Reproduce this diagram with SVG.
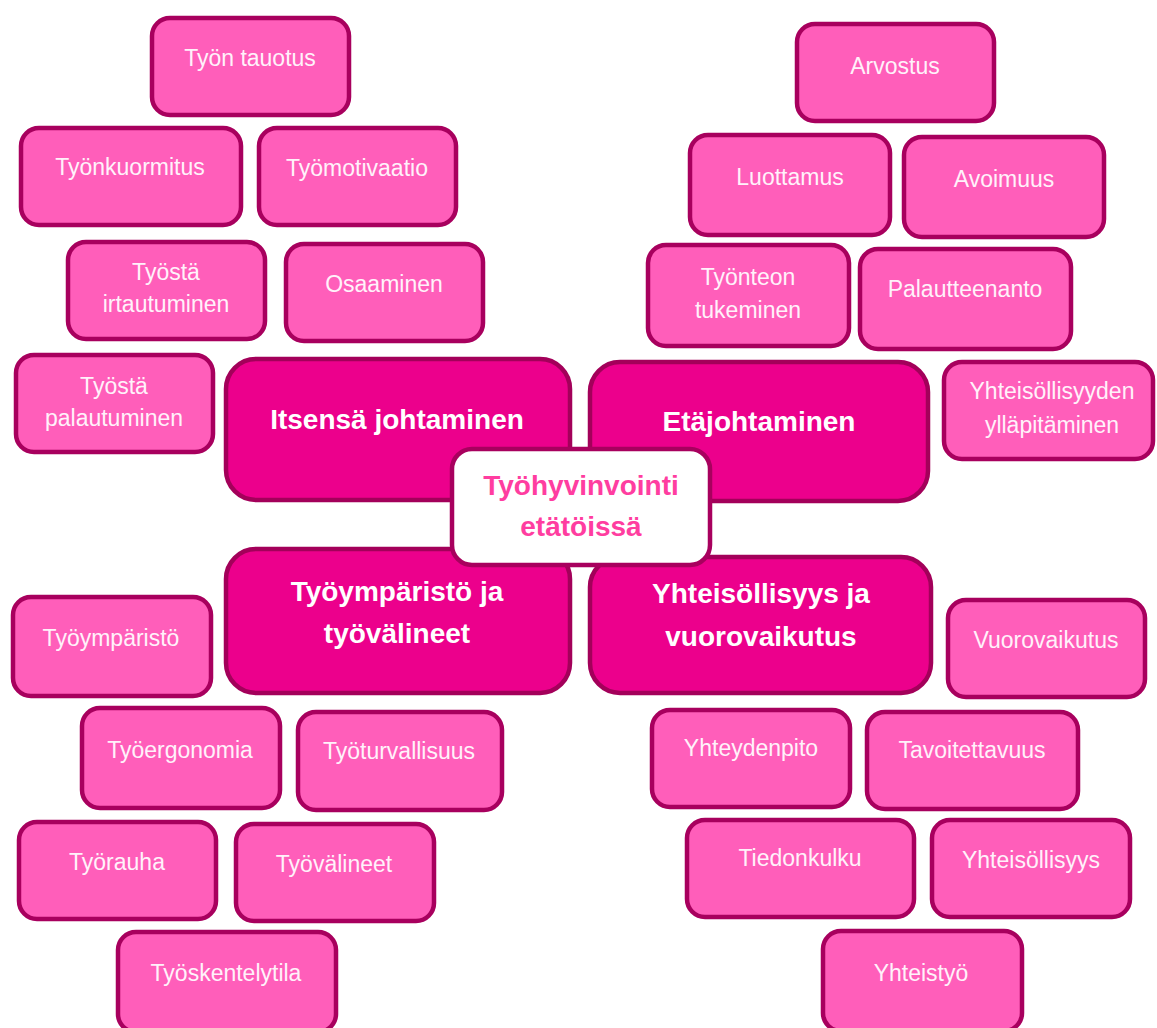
<svg xmlns="http://www.w3.org/2000/svg" width="1157" height="1028" viewBox="0 0 1157 1028">
<style>
.s rect{fill:#FF5EBA;stroke:#A8005E;stroke-width:4.5}
.s text{fill:#FFF2FA;font-family:"Liberation Sans",Arial,sans-serif;font-size:23px;text-anchor:middle}
.m rect{fill:#EC008C;stroke:#A3005A;stroke-width:4.5}
.m text{fill:#FFFFFF;font-family:"Liberation Sans",Arial,sans-serif;font-size:28px;font-weight:bold;text-anchor:middle}
.c rect{fill:#FFFFFF;stroke:#A8005E;stroke-width:4.5}
.c text{fill:#FF3DA0;font-family:"Liberation Sans",Arial,sans-serif;font-size:28px;font-weight:bold;text-anchor:middle}
</style>
<rect width="1157" height="1028" fill="#FFFFFF"/>
<g id="connectors"></g>

<!-- left top -->
<g id="tyon-tauotus" class="s"><rect x="152" y="18" width="197" height="97" rx="18"/><text x="250" y="66">Työn tauotus</text></g>
<g id="tyonkuormitus" class="s"><rect x="21" y="128" width="220" height="97" rx="18"/><text x="130" y="175">Työnkuormitus</text></g>
<g id="tyomotivaatio" class="s"><rect x="259" y="128" width="197" height="97" rx="18"/><text x="357" y="176">Työmotivaatio</text></g>
<g id="tyosta-irtautuminen" class="s"><rect x="68" y="242" width="197" height="97" rx="18"/><text x="166" y="280">Työstä</text><text x="166" y="312">irtautuminen</text></g>
<g id="osaaminen" class="s"><rect x="286" y="244" width="197" height="97" rx="18"/><text x="384" y="292">Osaaminen</text></g>
<g id="tyosta-palautuminen" class="s"><rect x="16" y="355" width="197" height="97" rx="18"/><text x="114" y="394">Työstä</text><text x="114" y="426">palautuminen</text></g>

<!-- right top -->
<g id="arvostus" class="s"><rect x="797" y="24" width="197" height="97" rx="18"/><text x="895" y="74">Arvostus</text></g>
<g id="luottamus" class="s"><rect x="690" y="135" width="200" height="100" rx="18"/><text x="790" y="185">Luottamus</text></g>
<g id="avoimuus" class="s"><rect x="904" y="137" width="200" height="100" rx="18"/><text x="1004" y="187">Avoimuus</text></g>
<g id="tyonteon-tukeminen" class="s"><rect x="648" y="245" width="201" height="101" rx="18"/><text x="748" y="285">Työnteon</text><text x="748" y="318">tukeminen</text></g>
<g id="palautteenanto" class="s"><rect x="860" y="249" width="211" height="100" rx="18"/><text x="965" y="297">Palautteenanto</text></g>
<g id="yhteisollisyyden-yllapitaminen" class="s"><rect x="944" y="362" width="209" height="97" rx="18"/><text x="1052" y="399">Yhteisöllisyyden</text><text x="1052" y="433">ylläpitäminen</text></g>

<!-- left bottom -->
<g id="tyoymparisto" class="s"><rect x="13" y="597" width="198" height="99" rx="18"/><text x="111" y="646">Työympäristö</text></g>
<g id="tyoergonomia" class="s"><rect x="82" y="708" width="198" height="100" rx="18"/><text x="180" y="758">Työergonomia</text></g>
<g id="tyoturvallisuus" class="s"><rect x="298" y="712" width="204" height="98" rx="18"/><text x="399" y="759">Työturvallisuus</text></g>
<g id="tyorauha" class="s"><rect x="19" y="822" width="197" height="97" rx="18"/><text x="117" y="870">Työrauha</text></g>
<g id="tyovalineet" class="s"><rect x="236" y="824" width="198" height="97" rx="18"/><text x="334" y="872">Työvälineet</text></g>
<g id="tyoskentelytila" class="s"><rect x="118" y="932" width="218" height="100" rx="18"/><text x="226" y="981">Työskentelytila</text></g>

<!-- right bottom -->
<g id="vuorovaikutus" class="s"><rect x="948" y="600" width="197" height="97" rx="18"/><text x="1046" y="648">Vuorovaikutus</text></g>
<g id="yhteydenpito" class="s"><rect x="652" y="710" width="198" height="97" rx="18"/><text x="751" y="756">Yhteydenpito</text></g>
<g id="tavoitettavuus" class="s"><rect x="867" y="712" width="211" height="97" rx="18"/><text x="972" y="758">Tavoitettavuus</text></g>
<g id="tiedonkulku" class="s"><rect x="687" y="820" width="227" height="97" rx="18"/><text x="800" y="866">Tiedonkulku</text></g>
<g id="yhteisollisyys" class="s"><rect x="932" y="820" width="198" height="97" rx="18"/><text x="1031" y="868">Yhteisöllisyys</text></g>
<g id="yhteistyo" class="s"><rect x="823" y="931" width="199" height="100" rx="18"/><text x="921" y="981">Yhteistyö</text></g>

<!-- main -->
<g id="itsensa-johtaminen" class="m"><rect x="226" y="359" width="344" height="141" rx="30"/><text x="397" y="429">Itsensä johtaminen</text></g>
<g id="etajohtaminen" class="m"><rect x="590" y="362" width="338" height="139" rx="30"/><text x="759" y="431">Etäjohtaminen</text></g>
<g id="tyoymparisto-ja-tyovalineet" class="m"><rect x="226" y="549" width="344" height="144" rx="30"/><text x="397" y="601">Työympäristö ja</text><text x="397" y="643">työvälineet</text></g>
<g id="yhteisollisyys-ja-vuorovaikutus" class="m"><rect x="590" y="557" width="341" height="136" rx="30"/><text x="761" y="603">Yhteisöllisyys ja</text><text x="761" y="646">vuorovaikutus</text></g>

<!-- center -->
<g id="tyohyvinvointi-etatoissa" class="c"><rect x="452" y="449" width="258" height="116" rx="20"/><text x="581" y="495">Työhyvinvointi</text><text x="581" y="536">etätöissä</text></g>
</svg>
